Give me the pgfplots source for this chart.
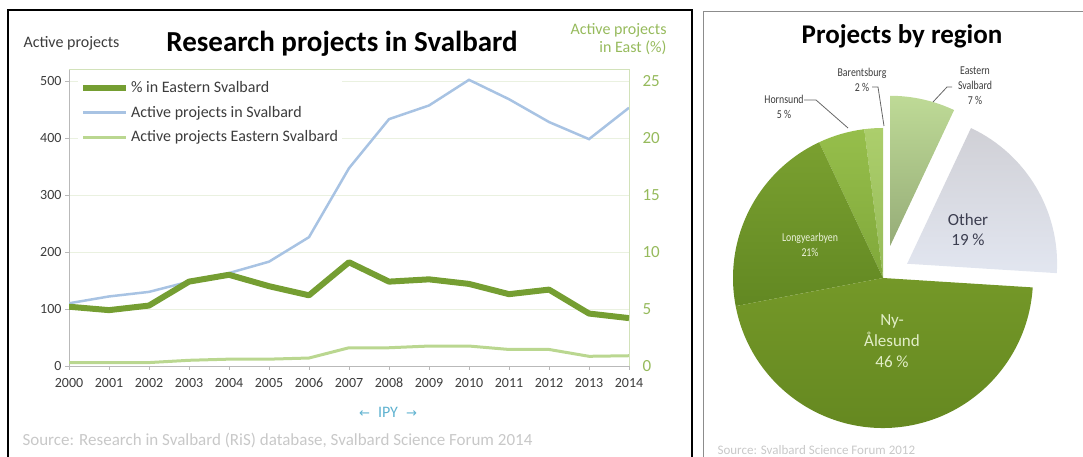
\documentclass[border=0pt]{standalone}
\usepackage{fontspec}
\setmainfont{Carlito}
\newfontfamily\condfont[FakeStretch=0.82]{Carlito}
\newfontfamily\dejavu{DejaVu Sans}
\usepackage{pgfplots}
\pgfplotsset{compat=1.18}
\usepackage{pgfplotstable}

\definecolor{pctgreen}{RGB}{117,158,50}
\definecolor{allblue}{RGB}{168,195,227}
\definecolor{eastgreen}{RGB}{186,215,144}
\definecolor{gridgreen}{RGB}{234,241,224}
\definecolor{axgreen}{RGB}{210,226,186}
\definecolor{labgreen}{RGB}{150,186,92}
\definecolor{axgrey}{RGB}{185,185,185}
\definecolor{txtgrey}{RGB}{60,60,60}
\definecolor{srcgrey}{RGB}{200,200,200}
\definecolor{ipyblue}{RGB}{95,178,208}
% pie colours
\definecolor{nyTop}{RGB}{116,152,40}
\definecolor{nyBot}{RGB}{100,135,32}
\definecolor{lyTop}{RGB}{122,160,48}
\definecolor{lyBot}{RGB}{98,136,34}
\definecolor{hoTop}{RGB}{150,190,75}
\definecolor{hoBot}{RGB}{128,168,58}
\definecolor{baTop}{RGB}{172,206,108}
\definecolor{baBot}{RGB}{150,188,88}
\definecolor{otTop}{RGB}{208,208,214}
\definecolor{otBot}{RGB}{226,230,240}
\definecolor{eaTop}{RGB}{190,218,150}
\definecolor{eaBot}{RGB}{150,172,120}

\pgfplotstableread{
year all east pct
2000 110 6 5.2
2001 122 6 4.9
2002 130 6 5.3
2003 148 10 7.4
2004 163 12 8.0
2005 183 12 7.0
2006 226 14 6.2
2007 347 32 9.1
2008 433 32 7.4
2009 457 35 7.6
2010 502 35 7.2
2011 468 29 6.3
2012 428 29 6.7
2013 398 17 4.6
2014 453 18 4.2
}\projdata

% pie slice: #1 cumulative % before, #2 share %, #3 explode, #4 top colour, #5 bottom colour
\newcommand\pieslice[5]{%
  \pgfmathsetmacro\sa{90+3.6*#1}%
  \pgfmathsetmacro\ea{90+3.6*(#1+#2)}%
  \pgfmathsetmacro\ma{(\sa+\ea)/2}%
  \pgfmathsetmacro\px{180+#3*cos(\ma)}%
  \pgfmathsetmacro\py{179+#3*sin(\ma)}%
  \edef\doslice{\noexpand\shade[top color=#4, bottom color=#5] (axis cs:\px,\py) -- ++(\sa:150pt) arc[start angle=\sa, end angle=\ea, radius=150pt] -- cycle;}%
  \doslice
}

\begin{document}
\begin{tikzpicture}
\useasboundingbox (0pt,0pt) rectangle (1083pt,457pt);
\clip (0pt,0pt) rectangle (1083pt,457pt);

% panel frames
\draw[black, line width=1.5pt] (8pt,447pt) rectangle (692pt,-10pt);
\draw[black!45, line width=0.8pt] (703pt,446pt) rectangle (1095pt,-10pt);

% ---------- left chart ----------
\begin{axis}[
  at={(69pt,91pt)}, anchor=south west, scale only axis,
  width=560pt, height=297pt,
  xmin=2000, xmax=2014, ymin=0, ymax=521,
  axis x line*=bottom, axis y line*=left,
  axis line style={axgrey, line width=0.8pt},
  xtick={2000,2001,...,2014}, ytick={0,100,...,500},
  tick align=outside, major tick length=4pt,
  tick style={axgrey, line width=0.8pt},
  ymajorgrids, grid style={gridgreen, line width=0.8pt},
  /pgf/number format/assume math mode=true,
  /pgf/number format/1000 sep={},
  x tick label style={font=\fontsize{14}{16}\selectfont, text=txtgrey, text height=10pt, text depth=0pt, yshift=-4pt},
  y tick label style={font=\fontsize{14}{16}\selectfont, text=txtgrey},
  legend style={at={(0.016,0.975)}, anchor=north west, draw=none, fill=white,
    font=\fontsize{16}{18}\selectfont, text=txtgrey, row sep=8pt,
    inner xsep=2pt, inner ysep=3pt},
  legend cell align=left,
  legend image code/.code={\draw[#1] (0pt,0pt) -- (43pt,0pt);},
]
\addlegendimage{pctgreen, line width=6pt}
\addlegendentry{\% in Eastern Svalbard}
\addplot[allblue, line width=2.5pt] table[x=year, y=all] {\projdata};
\addlegendentry{Active projects in Svalbard}
\addplot[eastgreen, line width=3pt] table[x=year, y=east] {\projdata};
\addlegendentry{Active projects Eastern Svalbard}
\end{axis}

\begin{axis}[
  at={(69pt,91pt)}, anchor=south west, scale only axis,
  width=560pt, height=297pt,
  xmin=2000, xmax=2014, ymin=0, ymax=26.05,
  axis x line*=top, axis y line*=right,
  axis line style={axgreen, line width=0.8pt},
  xtick=\empty, ytick={0,5,...,25},
  major tick length=0pt,
  /pgf/number format/assume math mode=true,
  y tick label style={font=\fontsize{17}{19}\selectfont, text=labgreen, xshift=10pt},
]
\addplot[pctgreen, line width=6pt, line join=round] table[x=year, y=pct] {\projdata};
\end{axis}

\node[font=\bfseries\fontsize{29}{32}\selectfont] at (342pt,413pt) {Research projects in Svalbard};
\node[anchor=west, font=\fontsize{16}{18}\selectfont, text=txtgrey] at (20pt,414pt) {Active projects};
\node[anchor=east, align=right, font=\fontsize{16}{18}\selectfont, text=labgreen] at (670pt,418pt) {Active projects\\in East (\%)};
\node[font=\fontsize{16}{18}\selectfont, text=ipyblue] at (388pt,45pt) {{\dejavu\fontsize{13}{15}\selectfont ←}\hspace{8pt}IPY\hspace{8pt}{\dejavu\fontsize{13}{15}\selectfont →}};
\node[anchor=west, font=\fontsize{17}{19}\selectfont, text=srcgrey] at (19pt,17pt) {Source: Research in Svalbard (RiS) database, Svalbard Science Forum 2014};

% ---------- pie ----------
\begin{axis}[
  at={(703pt,0pt)}, anchor=south west, scale only axis,
  width=380pt, height=457pt,
  xmin=0, xmax=380, ymin=0, ymax=457,
  hide axis, clip=false,
]
\pieslice{0}{2}{0}{baTop}{baBot}
\pieslice{2}{5}{0}{hoTop}{hoBot}
\pieslice{7}{21}{0}{lyTop}{lyBot}
\pieslice{28}{46}{0}{nyTop}{nyBot}
\pieslice{74}{19}{28}{otTop}{otBot}
\pieslice{93}{7}{33}{eaTop}{eaBot}

\draw[black!60, line width=0.8pt] (axis cs:101,357) -- (axis cs:113,357) -- (axis cs:145,329);
\draw[black!60, line width=0.8pt] (axis cs:169,370) -- (axis cs:175,370) -- (axis cs:181,331);
\draw[black!60, line width=0.8pt] (axis cs:249,370) -- (axis cs:244,370) -- (axis cs:230,355);

\node[align=center, font=\condfont\fontsize{12}{15}\selectfont, text=txtgrey] at (axis cs:81,350) {Hornsund\\5 \%};
\node[align=center, font=\condfont\fontsize{12}{15}\selectfont, text=txtgrey] at (axis cs:159,377) {Barentsburg\\2 \%};
\node[align=center, font=\condfont\fontsize{12}{15}\selectfont, text=txtgrey] at (axis cs:272,371) {Eastern\\Svalbard\\7 \%};
\node[align=center, font=\condfont\fontsize{12}{15}\selectfont, text={rgb,255:red,236;green,242;blue,220}] at (axis cs:107,212) {Longyearbyen\\21\%};
\node[align=center, font=\fontsize{17}{20}\selectfont, text={rgb,255:red,60;green,62;blue,80}] at (axis cs:265,227) {Other\\19 \%};
\node[align=center, font=\fontsize{17}{21}\selectfont, text={rgb,255:red,226;green,238;blue,200}] at (axis cs:189,116) {Ny-\\Ålesund\\46 \%};

\node[font=\bfseries\fontsize{27}{30}\selectfont] at (axis cs:199,421) {Projects by region};
\node[anchor=west, font=\fontsize{13}{15}\selectfont, text=srcgrey] at (axis cs:11,7) {Source: Svalbard Science Forum 2012};
\end{axis}
\end{tikzpicture}
\end{document}
